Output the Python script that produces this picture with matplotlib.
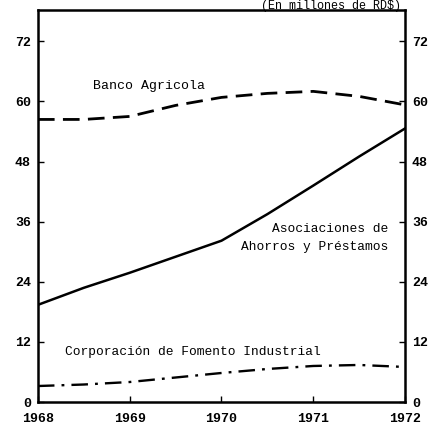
import matplotlib.pyplot as plt

years = [1968, 1968.5, 1969, 1969.5, 1970, 1970.5, 1971, 1971.5, 1972]
banco = [56.4, 56.4, 57.0, 59.2, 60.8, 61.6, 62.0, 61.0, 59.3]
asociaciones = [19.4, 22.8, 25.8, 29.0, 32.2, 37.5, 43.2, 49.0, 54.6]
corporacion = [3.2, 3.5, 4.0, 4.9, 5.8, 6.6, 7.2, 7.4, 7.0]

yticks = [0, 12, 24, 36, 48, 60, 72]
xticks = [1968, 1969, 1970, 1971, 1972]

plt.rcParams['font.family'] = 'Liberation Mono'

fig = plt.figure(figsize=(4.36, 4.25), dpi=100)
ax = fig.add_axes([0.087, 0.054, 0.842, 0.922])

ax.plot(years, banco, color='black', lw=2.0, linestyle=(0, (6, 3)))
ax.plot(years, asociaciones, color='black', lw=1.8)
ax.plot(years, corporacion, color='black', lw=1.7, linestyle=(0, (7, 3, 1.2, 3)))

ax.set_xlim(1968, 1972)
ax.set_ylim(0, 78.2)
ax.set_xticks(xticks)
ax.set_yticks(yticks)
ax.tick_params(direction='in', length=4, width=1, labelsize=9.5,
               left=True, right=True, labelleft=True, labelright=True, pad=5)
ax.tick_params(axis='x', pad=8)
for lbl in ax.get_xticklabels() + ax.get_yticklabels():
    lbl.set_fontweight('bold')
for s in ax.spines.values():
    s.set_linewidth(1.8)

ax.text(1968.6, 62.5, 'Banco Agricola', fontsize=9.5)
ax.text(1971.82, 34.0, 'Asociaciones de', fontsize=9.3, ha='right')
ax.text(1971.82, 30.4, 'Ahorros y Préstamos', fontsize=9.3, ha='right')
ax.text(1968.3, 9.3, 'Corporación de Fomento Industrial', fontsize=9.3)
fig.text(0.92, 1.0, '(En millones de RD$)', fontsize=8.5, ha='right', va='top')

fig.savefig('out.png', dpi=100)
